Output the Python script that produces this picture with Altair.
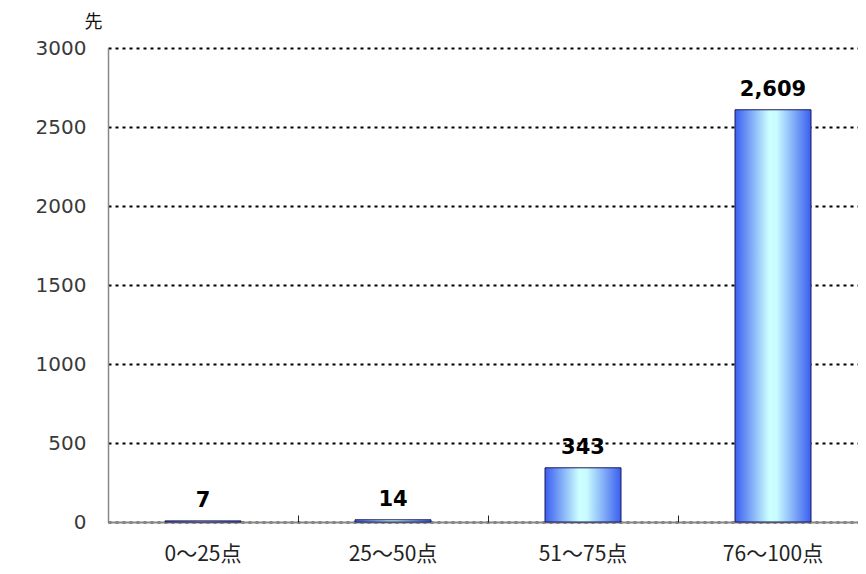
import altair as alt
import pandas as pd

categories = ["0〜25点", "25〜50点", "51〜75点", "76〜100点"]
values = [7, 14, 343, 2609]
y_ticks = [0, 500, 1000, 1500, 2000, 2500, 3000]

df = pd.DataFrame({"cat": categories, "val": values})

grad = alt.Gradient(
    gradient="linear",
    x1=0, x2=1, y1=0, y2=0,
    stops=[
        alt.GradientStop(color="#3a5ef0", offset=0),
        alt.GradientStop(color="#ccffff", offset=0.45),
        alt.GradientStop(color="#c8fbff", offset=0.55),
        alt.GradientStop(color="#3a5ef0", offset=1),
    ],
)

xscale = alt.Scale(paddingInner=0.6, paddingOuter=0.3, range=[0, 760])

x_bottom = alt.X(
    "cat:N",
    sort=categories,
    scale=xscale,
    axis=alt.Axis(
        title=None, labelAngle=0, labelFont="Noto Sans CJK JP", labelFontSize=21,
        labelColor="#222222", labelPadding=21, labelBaseline="top", ticks=False,
        domainColor="#888888", domainWidth=2,
    ),
)
x_top = alt.X(
    "cat:N",
    sort=categories,
    scale=xscale,
    axis=alt.Axis(
        title=None, orient="top", offset=-474, labels=False, domain=False,
        ticks=True, tickOffset=-95, tickSize=7, tickColor="#222222", tickWidth=1,
    ),
)
y = alt.Y(
    "val:Q",
    scale=alt.Scale(domain=[0, 3000], nice=False),
    axis=alt.Axis(
        values=y_ticks, format="d", title="先", titleAngle=0, titleX=-15, titleY=-26,
        titleAlign="center", titleBaseline="middle", titleFont="Noto Sans CJK JP",
        titleFontSize=18, titleFontWeight="normal", titleColor="#111111",
        labelFont="DejaVu Sans", labelFontSize=20, labelColor="#3a3a3a", labelPadding=22,
        ticks=False, domainColor="#888888", domainWidth=1.5,
        grid=True, gridColor="#000000", gridDash=[3, 4], gridWidth=2,
    ),
)

bars = alt.Chart(df).mark_bar(color=grad, stroke="#1a1a5a", strokeWidth=1).encode(x=x_bottom, y=y)
labels = alt.Chart(df).mark_text(
    baseline="alphabetic", dy=-14, font="DejaVu Sans", fontWeight="bold",
    fontSize=21, color="#000000"
).encode(x=x_top, y="val:Q", text=alt.Text("val:Q", format=","))

chart = alt.layer(bars, labels).resolve_axis(x="independent").properties(
    width=750, height=474,
    autosize=alt.AutoSizeParams(type="none"),
    padding={"left": 100, "top": 40, "right": 0, "bottom": 44},
).configure_view(stroke=None)

chart.save("out.html", embed_options={"renderer": "svg", "actions": False})
